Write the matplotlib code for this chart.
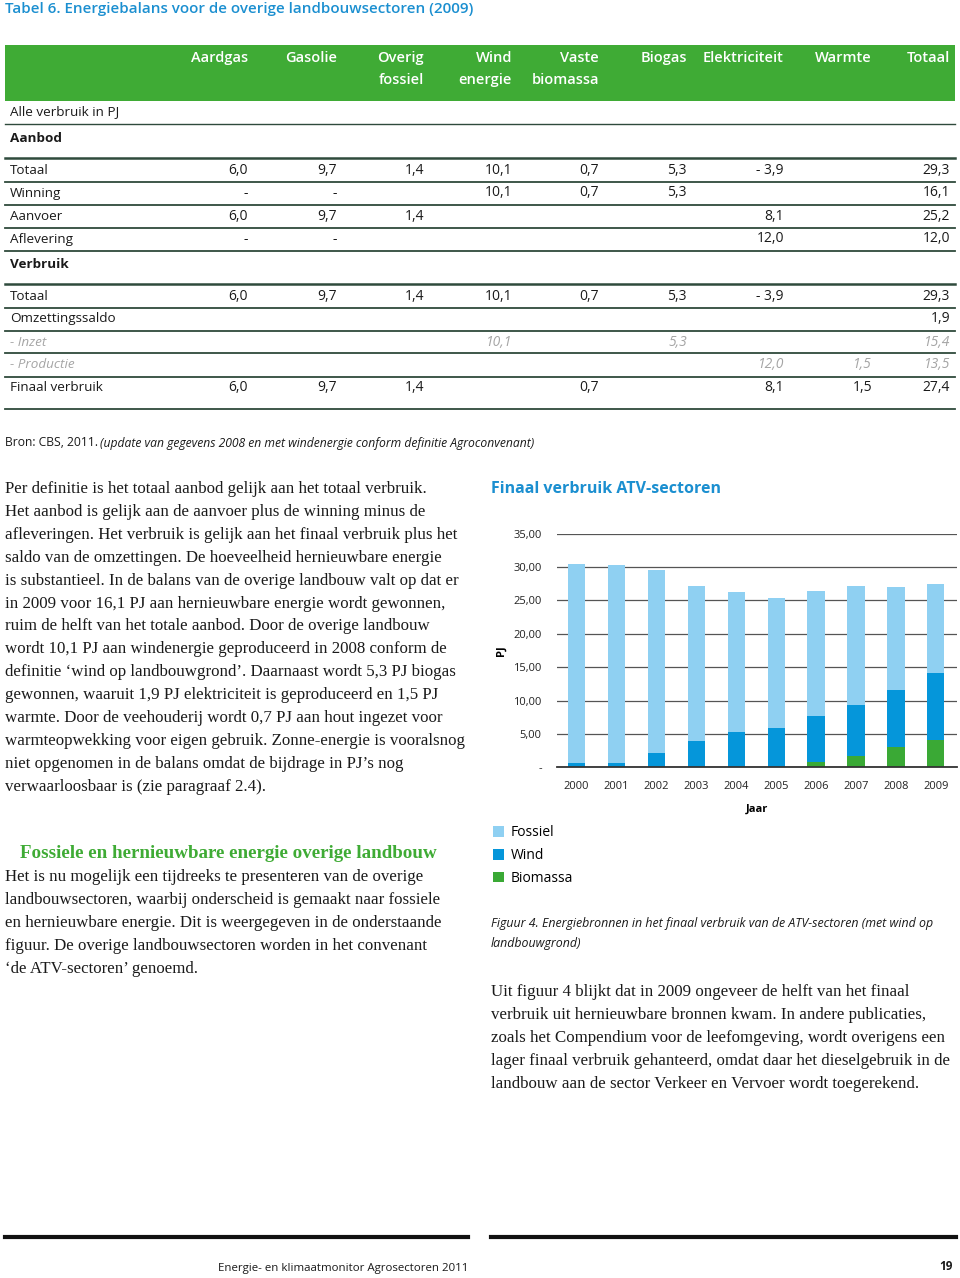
import matplotlib
matplotlib.use('Agg')
import matplotlib.pyplot as plt
from matplotlib.lines import Line2D
from matplotlib.patches import Rectangle

W, H = 960, 1278
SANS = 'Open Sans'
SERIF = 'Liberation Serif'

# --- data: tabel 6 ---
kolommen = ['Aardgas', 'Gasolie', 'Overig\nfossiel', 'Wind\nenergie', 'Vaste\nbiomassa',
            'Biogas', 'Elektriciteit', 'Warmte', 'Totaal']
aanbod_rijen = ['Totaal', 'Winning', 'Aanvoer', 'Aflevering']
aanbod_waarden = [
    ['6,0', '9,7', '1,4', '10,1', '0,7', '5,3', '- 3,9', '', '29,3'],
    ['-', '-', '', '10,1', '0,7', '5,3', '', '', '16,1'],
    ['6,0', '9,7', '1,4', '', '', '', '8,1', '', '25,2'],
    ['-', '-', '', '', '', '', '12,0', '', '12,0'],
]
verbruik_rijen = ['Totaal', 'Omzettingssaldo', '- Inzet', '- Productie', 'Finaal verbruik']
verbruik_waarden = [
    ['6,0', '9,7', '1,4', '10,1', '0,7', '5,3', '- 3,9', '', '29,3'],
    ['', '', '', '', '', '', '', '', '1,9'],
    ['', '', '', '10,1', '', '5,3', '', '', '15,4'],
    ['', '', '', '', '', '', '12,0', '1,5', '13,5'],
    ['6,0', '9,7', '1,4', '', '0,7', '', '8,1', '1,5', '27,4'],
]

# --- data: figuur 4 ---
jaren = ['2000', '2001', '2002', '2003', '2004', '2005', '2006', '2007', '2008', '2009']
biomassa = [0.0, 0.0, 0.0, 0.0, 0.1, 0.1, 0.75, 1.75, 3.05, 4.15]
wind = [0.6, 0.6, 2.15, 4.0, 5.15, 5.85, 7.0, 7.65, 8.6, 10.05]
fossiel = [29.85, 29.7, 27.4, 23.15, 21.05, 19.4, 18.7, 17.75, 15.4, 13.2]

GROEN = '#3fab35'
BLAUW = '#1b8fd0'
LIJN = '#2f4a3c'
C_FOS, C_WIND, C_BIO = '#8fd0f2', '#0596da', '#3aa935'
BODY = 12.2

fig = plt.figure(figsize=(W / 100, H / 100), dpi=100)


def T(x, y, s, **kw):
    kw.setdefault('va', 'center')
    kw.setdefault('family', SANS)
    kw.setdefault('fontsize', 10)
    kw.setdefault('color', '#1a1a1a')
    fig.text(x / W, 1 - y / H, s, **kw)


def hline(y, x0=5, x1=955, lw=1.3, color=LIJN):
    fig.add_artist(Line2D([x0 / W, x1 / W], [1 - y / H, 1 - y / H], color=color, lw=lw,
                          transform=fig.transFigure))


# titel
T(5, 9, 'Tabel 6. Energiebalans voor de overige landbouwsectoren (2009)', fontsize=10.9,
  color=BLAUW, weight='semibold')

# groene kop
fig.add_artist(Rectangle((5 / W, 1 - 101 / H), 950 / W, 56 / H, transform=fig.transFigure,
                         facecolor=GROEN, edgecolor='none'))
kol_x = [248, 337, 424, 512, 599, 687, 784, 872, 950]
for x, k in zip(kol_x, kolommen):
    T(x, 58, k.split('\n')[0], ha='right', color='white', weight='semibold', fontsize=10.5)
    if '\n' in k:
        T(x, 80, k.split('\n')[1], ha='right', color='white', weight='semibold', fontsize=10.5)

T(10, 112, 'Alle verbruik in PJ', fontsize=9.7)
hline(124, lw=1.0)
T(10, 138, 'Aanbod', weight='bold', fontsize=9.7)
hline(158, lw=1.8)

y0 = 170
for i, (naam, rij) in enumerate(zip(aanbod_rijen, aanbod_waarden)):
    y = y0 + i * 23
    T(10, y, naam, fontsize=9.7)
    for x, v in zip(kol_x, rij):
        T(x, y, v, ha='right')
    hline(y + 11.5)

T(10, 264, 'Verbruik', weight='bold', fontsize=9.7)
hline(284, lw=1.8)
y0 = 296
for i, (naam, rij) in enumerate(zip(verbruik_rijen, verbruik_waarden)):
    y = y0 + i * 23
    grijs = naam.startswith('-')
    kw = dict(color='#a5a5a5', style='italic') if grijs else {}
    T(10, y, naam, fontsize=9.7, **kw)
    for x, v in zip(kol_x, rij):
        T(x, y, v, ha='right', **kw)
    hline(y + 11.5 if i < 4 else 409)

# bron
T(5, 443, 'Bron: CBS, 2011.', fontsize=8.7)
T(100, 443, '(update van gegevens 2008 en met windenergie conform definitie Agroconvenant)',
  fontsize=8.7, style='italic')

# linker tekstkolom
links = [
    'Per definitie is het totaal aanbod gelijk aan het totaal verbruik.',
    'Het aanbod is gelijk aan de aanvoer plus de winning minus de',
    'afleveringen. Het verbruik is gelijk aan het finaal verbruik plus het',
    'saldo van de omzettingen. De hoeveelheid hernieuwbare energie',
    'is substantieel. In de balans van de overige landbouw valt op dat er',
    'in 2009 voor 16,1 PJ aan hernieuwbare energie wordt gewonnen,',
    'ruim de helft van het totale aanbod. Door de overige landbouw',
    'wordt 10,1 PJ aan windenergie geproduceerd in 2008 conform de',
    'definitie \u2018wind op landbouwgrond\u2019. Daarnaast wordt 5,3 PJ biogas',
    'gewonnen, waaruit 1,9 PJ elektriciteit is geproduceerd en 1,5 PJ',
    'warmte. Door de veehouderij wordt 0,7 PJ aan hout ingezet voor',
    'warmteopwekking voor eigen gebruik. Zonne-energie is vooralsnog',
    'niet opgenomen in de balans omdat de bijdrage in PJ\u2019s nog',
    'verwaarloosbaar is (zie paragraaf 2.4).',
]
for i, r in enumerate(links):
    T(5, 489 + i * 22.9, r, family=SERIF, fontsize=BODY)

T(20, 854, 'Fossiele en hernieuwbare energie overige landbouw', family=SERIF, fontsize=13.7,
  weight='bold', color=GROEN)
links2 = [
    'Het is nu mogelijk een tijdreeks te presenteren van de overige',
    'landbouwsectoren, waarbij onderscheid is gemaakt naar fossiele',
    'en hernieuwbare energie. Dit is weergegeven in de onderstaande',
    'figuur. De overige landbouwsectoren worden in het convenant',
    '\u2018de ATV-sectoren\u2019 genoemd.',
]
for i, r in enumerate(links2):
    T(5, 877 + i * 23, r, family=SERIF, fontsize=BODY)

# rechter kolom: grafiek
T(491, 489, 'Finaal verbruik ATV-sectoren', fontsize=11.5, color=BLAUW, weight='bold')

ax = fig.add_axes([557 / W, 1 - 767.3 / H, 400 / W, 233.6 / H])
xs = range(len(jaren))
bw = 0.43
b1 = ax.bar(xs, biomassa, bw, color=C_BIO, label='Biomassa')
b2 = ax.bar(xs, wind, bw, bottom=biomassa, color=C_WIND, label='Wind')
onder = [b + w for b, w in zip(biomassa, wind)]
b3 = ax.bar(xs, fossiel, bw, bottom=onder, color=C_FOS, label='Fossiel')
ax.set_xlim(-0.49, 9.53)
ax.set_ylim(0, 35)
ax.set_yticks(range(0, 36, 5))
ax.set_yticklabels(['-'] + [f'{v},00' for v in range(5, 36, 5)])
ax.set_xticks(list(xs))
ax.set_xticklabels(jaren)
ax.tick_params(length=0, labelsize=8, colors='#222222')
ax.tick_params(axis='y', pad=11)
ax.tick_params(axis='x', pad=10)
ax.yaxis.grid(True, color='#555555', lw=0.9)
ax.set_axisbelow(True)
for s in ['left', 'right', 'top']:
    ax.spines[s].set_visible(False)
ax.spines['bottom'].set_color('#333333')
ax.spines['bottom'].set_linewidth(1.3)
ax.set_xlabel('Jaar', fontsize=8, weight='bold', labelpad=8)
ax.set_ylabel('PJ', fontsize=8, weight='bold', labelpad=5)
for lab in ax.get_xticklabels() + ax.get_yticklabels():
    lab.set_family(SANS)
ax.xaxis.label.set_family(SANS)
ax.yaxis.label.set_family(SANS)

fig.legend([b3, b2, b1], ['Fossiel', 'Wind', 'Biomassa'], loc='upper left',
           bbox_to_anchor=(480 / W, 1 - 813 / H), frameon=False, prop={'family': SANS, 'size': 10},
           handlelength=0.8, handleheight=0.8, handletextpad=0.5, labelspacing=0.55)

T(491, 924, 'Figuur 4. Energiebronnen in het finaal verbruik van de ATV-sectoren (met wind op',
  fontsize=8.95, style='italic')
T(491, 943, 'landbouwgrond)', fontsize=8.95, style='italic')

rechts = [
    'Uit figuur 4 blijkt dat in 2009 ongeveer de helft van het finaal',
    'verbruik uit hernieuwbare bronnen kwam. In andere publicaties,',
    'zoals het Compendium voor de leefomgeving, wordt overigens een',
    'lager finaal verbruik gehanteerd, omdat daar het dieselgebruik in de',
    'landbouw aan de sector Verkeer en Vervoer wordt toegerekend.',
]
for i, r in enumerate(rechts):
    T(491, 992 + i * 22.9, r, family=SERIF, fontsize=BODY)

# voettekst
hline(1237, 5, 468, lw=3, color='#111111')
hline(1237, 491, 956, lw=3, color='#111111')
T(343, 1268, 'Energie- en klimaatmonitor Agrosectoren 2011', ha='center', fontsize=8.25)
T(953, 1266, '19', ha='right', fontsize=8.5, weight='bold')

fig.savefig('out.png', dpi=100)
